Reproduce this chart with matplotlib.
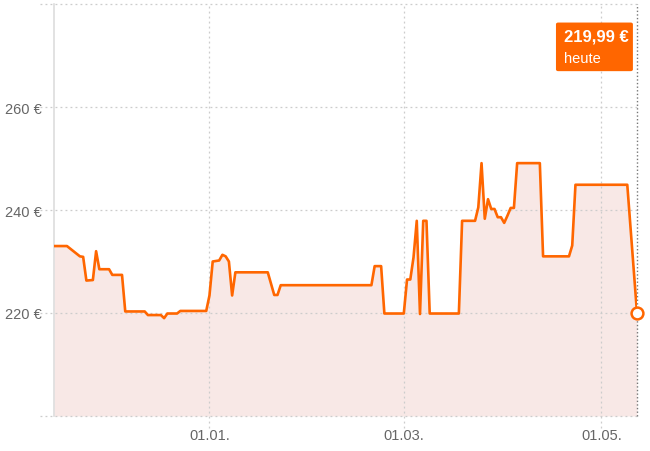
import matplotlib
matplotlib.use("Agg")
import matplotlib.pyplot as plt
import matplotlib.dates as mdates
from matplotlib.patches import FancyBboxPatch
import pandas as pd

# price history
dates = [
    "2023-11-14", "2023-11-18", "2023-11-20", "2023-11-22", "2023-11-23",
    "2023-11-24", "2023-11-26", "2023-11-27", "2023-11-28", "2023-12-01",
    "2023-12-02", "2023-12-05", "2023-12-06", "2023-12-12", "2023-12-13",
    "2023-12-17", "2023-12-18", "2023-12-19", "2023-12-22", "2023-12-23",
    "2023-12-31", "2024-01-01", "2024-01-02", "2024-01-04", "2024-01-05",
    "2024-01-06", "2024-01-07", "2024-01-08", "2024-01-09", "2024-01-19",
    "2024-01-21", "2024-01-22", "2024-01-23", "2024-02-20", "2024-02-21",
    "2024-02-23", "2024-02-24", "2024-03-01", "2024-03-02", "2024-03-03",
    "2024-03-04", "2024-03-05", "2024-03-06", "2024-03-07", "2024-03-08",
    "2024-03-09", "2024-03-18", "2024-03-19", "2024-03-23", "2024-03-24",
    "2024-03-25", "2024-03-26", "2024-03-27", "2024-03-28", "2024-03-29",
    "2024-03-30", "2024-03-31", "2024-04-01", "2024-04-02", "2024-04-03",
    "2024-04-04", "2024-04-05", "2024-04-12", "2024-04-13", "2024-04-21",
    "2024-04-22", "2024-04-23", "2024-05-09", "2024-05-12",
]
prices = [
    233.0, 233.0, 232.0, 231.0, 230.9,
    226.3, 226.4, 232.0, 228.5, 228.5,
    227.4, 227.4, 220.3, 220.3, 219.6,
    219.6, 219.0, 219.9, 219.9, 220.4,
    220.4, 223.4, 230.0, 230.2, 231.3,
    231.0, 230.0, 223.4, 227.9, 227.9,
    223.5, 223.5, 225.4, 225.4, 229.1,
    229.1, 219.9, 219.9, 226.5, 226.5,
    230.8, 237.9, 219.8, 237.9, 237.9,
    219.9, 219.9, 237.9, 237.9, 240.5,
    249.1, 238.3, 242.1, 240.2, 240.2,
    238.6, 238.6, 237.5, 238.9, 240.4,
    240.4, 249.1, 249.1, 231.0, 231.0,
    233.1, 244.9, 244.9, 219.99,
]

y_ticks = [220, 240, 260]
y_grid = [200, 220, 240, 260, 280]
x_ticks = ["2024-01-01", "2024-03-01", "2024-05-01"]
current_label = "219,99 €"
current_sub = "heute"

ORANGE = "#FF6600"
FILL = "#F8E8E6"
GRID = "#cccccc"
TEXT = "#666666"

plt.rcParams["font.family"] = ["Liberation Sans", "DejaVu Sans"]

x = pd.to_datetime(dates)
xt = pd.to_datetime(x_ticks)

fig = plt.figure(figsize=(6.5, 4.52), dpi=100)
ax = fig.add_axes([54 / 650, 35 / 452, 583 / 650, 412 / 452])

ax.set_xlim(x[0], x[-1])
ax.set_ylim(200, 280)

# fill + line
ax.fill_between(x, prices, 200, color=FILL, linewidth=0, zorder=1)
ax.plot(x, prices, color=ORANGE, linewidth=1.9, zorder=3, solid_joinstyle="round")

# dotted grid, horizontal lines reach a bit left of the axis
ax.hlines(y_grid, -0.024, 1, transform=ax.get_yaxis_transform(), colors=GRID,
          linestyles=(0, (1.5, 2.5)), linewidth=0.9, clip_on=False, zorder=2)
ax.vlines(xt, -0.03, 1, transform=ax.get_xaxis_transform(), colors=GRID,
          linestyles=(0, (1.5, 2.5)), linewidth=0.9, clip_on=False, zorder=2)

# "today" line
ax.vlines(x[-1], 0, 1, transform=ax.get_xaxis_transform(), colors="#777777",
          linestyles=(0, (1, 1.6)), linewidth=1.0, clip_on=False, zorder=2)

# end marker
ax.plot(x[-1], prices[-1], marker="o", markersize=8.5, markerfacecolor="white",
        markeredgecolor=ORANGE, markeredgewidth=1.8, clip_on=False, zorder=4)

for side in ["top", "right", "bottom"]:
    ax.spines[side].set_visible(False)
ax.spines["left"].set_color("#dddddd")
ax.spines["left"].set_linewidth(1.2)

ax.set_yticks(y_ticks)
ax.set_yticklabels([f"{v} €" for v in y_ticks])
ax.set_xticks(xt)
ax.xaxis.set_major_formatter(mdates.DateFormatter("%d.%m."))
ax.tick_params(axis="y", length=0, pad=8.5, labelsize=10.5, labelcolor=TEXT)
ax.tick_params(axis="x", length=0, pad=9, labelsize=10.5, labelcolor=TEXT)

# current price box
box = FancyBboxPatch((0.861, 0.837), 0.132, 0.118, transform=ax.transAxes,
                     boxstyle="round,pad=0,rounding_size=0.004",
                     facecolor=ORANGE, edgecolor="none", clip_on=False, zorder=5)
ax.add_patch(box)
ax.text(0.874, 0.911, current_label, transform=ax.transAxes, color="white",
        fontsize=12, fontweight="bold", va="baseline", ha="left", zorder=6)
ax.text(0.874, 0.859, current_sub, transform=ax.transAxes, color="white",
        fontsize=10.5, va="baseline", ha="left", zorder=6)

fig.savefig("out.png", dpi=100)
